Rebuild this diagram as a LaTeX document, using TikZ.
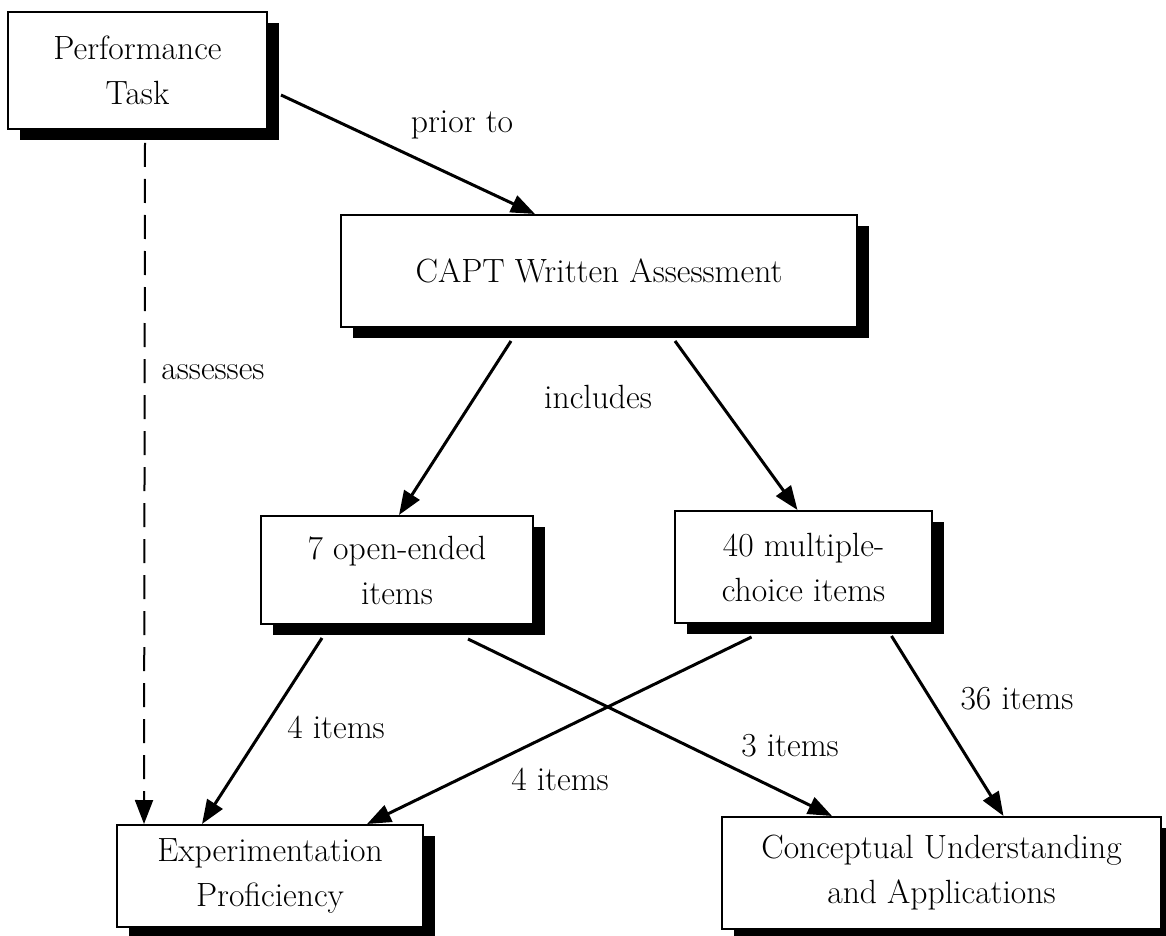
\documentclass[tikz,border=0pt]{standalone}
\usetikzlibrary{arrows.meta,shadows,calc}
\tikzset{
  box/.style={draw,line width=1pt,fill=white,align=center,inner sep=0pt,
    font=\fontsize{16.8}{22.5}\selectfont,
    drop shadow={shadow xshift=6pt,shadow yshift=-5.5pt,fill=black,opacity=1}},
  link/.style={line width=1.5pt,-{Triangle[length=12pt,width=9pt]}},
  tag/.style={font=\fontsize{16.8}{20}\selectfont,inner sep=0pt},
}
\begin{document}
\begin{tikzpicture}[x=0.5pt,y=-0.5pt]
    \useasboundingbox (0,0) rectangle (1166,936);
    % boxes
    \node[box,minimum width=129.5pt,minimum height=58.5pt] (perf) at (137.5,70.5) {Performance\\Task};
    \node[box,minimum width=258pt,minimum height=56pt] (capt) at (599,271) {CAPT Written Assessment};
    \node[box,minimum width=136pt,minimum height=54pt] (open) at (397,570) {7 open-ended\\items};
    \node[box,minimum width=128.5pt,minimum height=56pt] (multi) at (803.5,567) {40 multiple-\\choice items};
    \node[box,minimum width=153pt,minimum height=51pt] (exper) at (270,876) {Experimentation\\Proficiency};
    \node[box,minimum width=219.5pt,minimum height=56pt] (concept) at (941.5,873) {Conceptual Understanding\\and Applications};
    % labels
    \node[tag] (prior) at (462,125) {prior to};
    \node[tag] (assess) at (213,372) {assesses};
    \node[tag] (incl) at (598,397) {includes};
    \node[tag] (oefour) at (336,727) {4 items};
    \node[tag] (oethree) at (790,746) {3 items};
    \node[tag] (mcfour) at (560,779) {4 items};
    \node[tag] (mcsix) at (1017,699) {36 items};
    % connectors
    \draw[link] ($(perf.east)+(13,24.5)$) -- ($(capt.north)+(-64,0)$);
    \draw[line width=1pt,dash pattern=on 12pt off 6pt,-{Triangle[length=12pt,width=9pt]}]
        ($(perf.south)+(7.5,13)$) -- ($(exper.north west)+(28,0)$);
    \draw[link] ($(capt.south)+(-88,13)$) -- ($(open.north)+(2,0)$);
    \draw[link] ($(capt.south)+(76,13)$) -- ($(multi.north)+(-6,0)$);
    \draw[link] ($(open.south)+(-75,13)$) -- ($(exper.north)+(-68,0)$);
    \draw[link] ($(open.south)+(71,14)$) -- ($(concept.north west)+(111,0)$);
    \draw[link] ($(multi.south)+(-52,13)$) -- ($(exper.north)+(97,0)$);
    \draw[link] ($(multi.south)+(88,12)$) -- ($(concept.north)+(62,0)$);
\end{tikzpicture}
\end{document}
